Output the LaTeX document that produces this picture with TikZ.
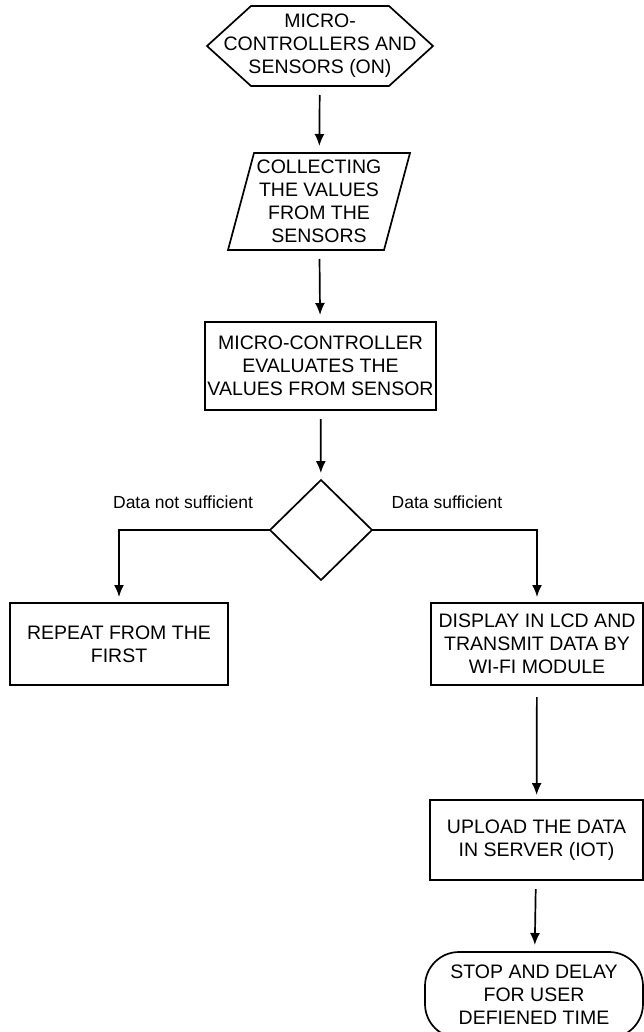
\documentclass[tikz,border=0pt]{standalone}
\usepackage{fontspec}
\setmainfont{Liberation Sans}
\usetikzlibrary{shapes.geometric,calc,arrows.meta}
\begin{document}
\begin{tikzpicture}[x=1pt,y=-1pt,
  every node/.style={inner sep=0pt,outer sep=0pt},
  txt/.style={align=center,font=\fontsize{19.5}{23}\selectfont},
  boxed/.style={txt,draw,line width=1.7pt},
  lbl/.style={font=\fontsize{17.5}{20}\selectfont},
  ln/.style={line width=1.7pt},
  arr/.style={ln,-{Latex[length=12pt,width=10pt]},shorten <=9pt,shorten >=7pt}]
\useasboundingbox (0,0) rectangle (644,1032);
% hexagon start
\node[txt,minimum width=226pt,minimum height=80pt] (hex) at (320,46) {MICRO-\\CONTROLLERS AND\\SENSORS (ON)};
\draw[ln] (hex.west) -- ($(hex.north west)+(44,0)$) -- ($(hex.north east)-(44,0)$) -- (hex.east)
  -- ($(hex.south east)-(44,0)$) -- ($(hex.south west)+(44,0)$) -- cycle;
% parallelogram input
\node[txt,minimum width=182pt,minimum height=97pt] (para) at (319,201.5) {COLLECTING\\THE VALUES\\FROM THE\\SENSORS};
\draw[ln] ($(para.north west)+(26,0)$) -- (para.north east) -- ($(para.south east)-(26,0)$) -- (para.south west) -- cycle;
% process
\node[boxed,minimum width=231pt,minimum height=88pt] (eval) at (320.5,366) {MICRO-CONTROLLER\\EVALUATES THE\\VALUES FROM SENSOR};
% decision
\node[draw,ln,diamond,minimum width=102pt,minimum height=100pt] (dec) at (321,530) {};
% branches
\node[boxed,minimum width=218pt,minimum height=82pt] (rep) at (119,644) {REPEAT FROM THE\\FIRST};
\node[boxed,minimum width=212pt,minimum height=82pt] (disp) at (537,644) {DISPLAY IN LCD AND\\TRANSMIT DATA BY\\WI-FI MODULE};
\node[boxed,minimum width=213pt,minimum height=80pt] (up) at (536.5,840) {UPLOAD THE DATA\\IN SERVER (IOT)};
\node[boxed,rounded corners=34pt,minimum width=218pt,minimum height=86pt] (stop) at (534,995) {STOP AND DELAY\\FOR USER\\DEFIENED TIME};
% labels
\node[lbl] (l1) at (183,502) {Data not sufficient};
\node[lbl] (l2) at (447,502) {Data sufficient};
% connectors
\draw[arr] (hex) -- (para);
\draw[arr] (para) -- (eval);
\draw[arr] (eval) -- (dec);
\draw[ln,-{Latex[length=12pt,width=10pt]},shorten >=6pt] (dec.west) -| (rep.north);
\draw[ln,-{Latex[length=12pt,width=10pt]},shorten >=6pt] (dec.east) -| (disp.north);
\draw[arr,shorten <=12pt,shorten >=5pt] (disp) -- (up);
\draw[arr] (up) -- (stop);
\end{tikzpicture}
\end{document}
